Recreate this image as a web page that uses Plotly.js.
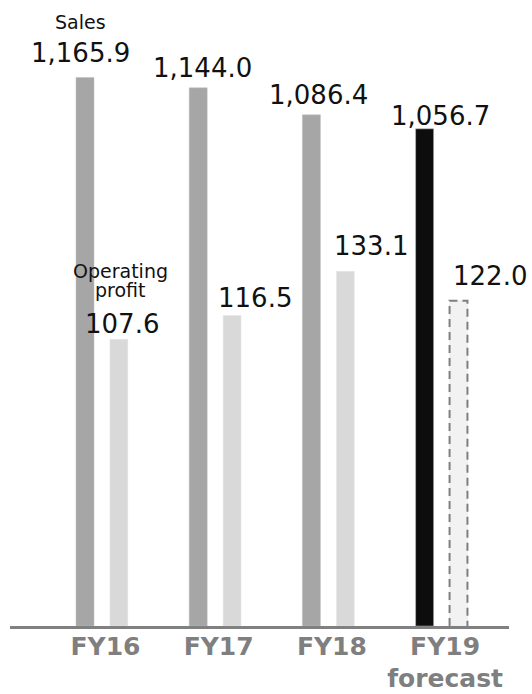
<!DOCTYPE html>
<html>
<head>
<meta charset="utf-8">
<script src="https://cdn.plot.ly/plotly-3.0.1.min.js"></script>
<style>html,body{margin:0;padding:0;background:#fff;}#chart{width:532px;height:694px;}</style>
</head>
<body>
<div id="chart"></div>
<script>
// ---- data ----
const categories = ["FY16", "FY17", "FY18", "FY19<br>forecast"];
const sales = [1165.9, 1144.0, 1086.4, 1056.7];
const operatingProfit = [107.6, 116.5, 133.1, 122.0];
const salesColors = ["#a6a6a6", "#a6a6a6", "#a6a6a6", "#0d0d0d"];
const profitColors = ["#d9d9d9", "#d9d9d9", "#d9d9d9", "#f2f2f2"];

// ---- layout constants (not data) ----
const xIdx = categories.map((_, i) => i);
const salesOffset = -0.225, salesWidth = 0.159;
const profitOffset = 0.075, profitWidth = 0.158;
// label tweaks: [dx px from bar centre, gap px between bar top and text baseline]
const salesLabelShift = [[-5, 15], [4, 10], [7.5, 10], [15.5, 3]];
const profitLabelShift = [[3, 5], [23, 8], [25.5, 15], [31.5, 15]];
const FONT = "DejaVu Sans";

const fmt = v => v.toLocaleString("en-US", {minimumFractionDigits: 1, maximumFractionDigits: 1});

const traces = [
  {
    type: "bar", x: xIdx, y: sales, offset: salesOffset, width: salesWidth,
    marker: {color: salesColors, line: {color: "#bfbfbf", width: 0.5}},
    yaxis: "y", hoverinfo: "skip", showlegend: false
  },
  {
    type: "bar", x: xIdx, y: operatingProfit, offset: profitOffset, width: profitWidth,
    marker: {color: profitColors, line: {color: "#e6e6e6", width: 0.5}},
    yaxis: "y2", hoverinfo: "skip", showlegend: false
  }
];

// dashed outline of the forecast profit bar, from the data
const last = operatingProfit.length - 1;
const x0 = last + profitOffset, x1 = last + profitOffset + profitWidth;
traces.push({
  type: "scatter", mode: "lines",
  x: [x0, x0, x1, x1], y: [0, operatingProfit[last], operatingProfit[last], 0],
  yaxis: "y2", line: {color: "#7f7f7f", width: 2, dash: "8px,5px"},
  hoverinfo: "skip", showlegend: false
});

const annotations = [];
const LBL = 26;
const desc = LBL * 0.236 + 1;
sales.forEach((v, i) => {
  annotations.push({
    x: i + salesOffset + salesWidth / 2, y: v, xref: "x", yref: "y",
    text: fmt(v), showarrow: false, xanchor: "center", yanchor: "bottom",
    xshift: salesLabelShift[i][0], yshift: salesLabelShift[i][1] - desc,
    font: {family: FONT, size: LBL, color: "#111111"}
  });
});
operatingProfit.forEach((v, i) => {
  annotations.push({
    x: i + profitOffset + profitWidth / 2, y: v, xref: "x", yref: "y2",
    text: fmt(v), showarrow: false, xanchor: "center", yanchor: "bottom",
    xshift: profitLabelShift[i][0], yshift: profitLabelShift[i][1] - desc,
    font: {family: FONT, size: LBL, color: "#111111"}
  });
});
// series names
const NS = 19, nd = NS * 0.236 + 1;
annotations.push({
  x: 0 + salesOffset + salesWidth / 2, y: sales[0], xref: "x", yref: "y",
  text: "Sales", showarrow: false, xanchor: "center", yanchor: "bottom",
  xshift: -5, yshift: 49 - nd, borderpad: 0, font: {family: FONT, size: NS, color: "#111111"}
});
annotations.push({
  x: 0 + profitOffset + profitWidth / 2, y: operatingProfit[0], xref: "x", yref: "y2",
  text: "Operating", showarrow: false, xanchor: "center", yanchor: "bottom",
  xshift: 1.5, yshift: 62 - nd, borderpad: 0, font: {family: FONT, size: NS, color: "#111111"}
});
annotations.push({
  x: 0 + profitOffset + profitWidth / 2, y: operatingProfit[0], xref: "x", yref: "y2",
  text: "profit", showarrow: false, xanchor: "center", yanchor: "bottom",
  xshift: 1.5, yshift: 43 - nd, borderpad: 0, font: {family: FONT, size: NS, color: "#111111"}
});

const layout = {
  width: 532, height: 694,
  margin: {l: 10, r: 23, t: 0, b: 68},
  paper_bgcolor: "#ffffff", plot_bgcolor: "#ffffff",
  barmode: "overlay",
  showlegend: false,
  xaxis: {
    range: [-0.808, 3.6], tickvals: xIdx, ticktext: categories,
    showgrid: false, zeroline: false, showline: true, linecolor: "#808080", linewidth: 2.5,
    ticks: "", ticklabelshift: 4, ticklabelstandoff: -4,
    tickfont: {family: FONT, size: 25, color: "#7f7f7f", weight: "bold"},
    fixedrange: true
  },
  yaxis: {range: [0, 1330.5], visible: false, fixedrange: true},
  yaxis2: {range: [0, 234.9], overlaying: "y", visible: false, fixedrange: true},
  annotations: annotations
};

Plotly.newPlot("chart", traces, layout, {displayModeBar: false, staticPlot: true});
</script>
</body>
</html>
